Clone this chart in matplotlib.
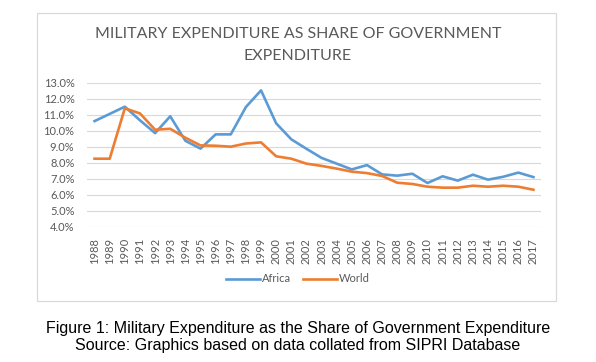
import matplotlib.pyplot as plt
from matplotlib.patches import Rectangle
from matplotlib.ticker import PercentFormatter

years = list(range(1988, 2018))
africa = [10.6, 11.05, 11.5, 10.65, 9.85, 10.9, 9.37, 8.88, 9.77, 9.77,
          11.48, 12.52, 10.46, 9.46, 8.87, 8.3, 7.94, 7.58, 7.85, 7.27,
          7.19, 7.31, 6.73, 7.15, 6.88, 7.25, 6.94, 7.12, 7.38, 7.1]
world = [8.25, 8.25, 11.4, 11.08, 10.06, 10.12, 9.56, 9.08, 9.06, 9.0,
         9.2, 9.27, 8.4, 8.25, 7.94, 7.8, 7.63, 7.44, 7.35, 7.17,
         6.75, 6.67, 6.5, 6.44, 6.44, 6.56, 6.5, 6.56, 6.5, 6.31]

title = 'MILITARY EXPENDITURE AS SHARE OF GOVERNMENT\nEXPENDITURE'
caption = ('Figure 1: Military Expenditure as the Share of Government Expenditure\n'
           'Source: Graphics based on data collated from SIPRI Database')

plt.rcParams['font.family'] = ['Lato', 'DejaVu Sans']
grey = '#595959'

fig = plt.figure(figsize=(5.96, 3.62), dpi=100)

# chart frame like the excel chart area
fig.patches.append(Rectangle((37 / 596, 1 - 301 / 362), 519 / 596, 288.5 / 362,
                             transform=fig.transFigure, fill=False,
                             edgecolor='#d9d9d9', linewidth=0.9))

ax = fig.add_axes([87 / 596, 1 - 226.7 / 362, 454 / 596, 144 / 362])
x = range(len(years))
ax.plot(x, africa, color='#5b9bd5', linewidth=1.9, label='Africa')
ax.plot(x, world, color='#ed7d31', linewidth=1.9, label='World')

ax.set_xlim(-0.5, len(years) - 0.5)
ax.set_ylim(4, 13)
ax.set_yticks(range(4, 14))
ax.yaxis.set_major_formatter(PercentFormatter(decimals=1))
ax.set_xticks(list(x))
ax.set_xticklabels([str(y) for y in years], rotation=90)
ax.tick_params(axis='both', length=0, labelsize=8, labelcolor=grey)
ax.tick_params(axis='y', pad=9)
ax.tick_params(axis='x', pad=8)
ax.grid(axis='y', color='#d9d9d9', linewidth=0.8)
ax.set_axisbelow(True)
for s in ax.spines.values():
    s.set_visible(False)

fig.text(0.5, 1 - 45 / 362, title, ha='center', va='center', fontsize=11.5,
         color=grey, linespacing=1.8)

fig.legend(loc='center', bbox_to_anchor=(0.5, 1 - 279 / 362), ncol=2,
           frameon=False, fontsize=8, labelcolor=grey, handlelength=3.0,
           columnspacing=1.1, handletextpad=0.2)

fig.text(0.5, 1 - 337 / 362, caption, ha='center', va='center', fontsize=11.5,
         family=['Liberation Sans', 'DejaVu Sans'], color='black', linespacing=1.15)

fig.savefig('out.png', dpi=100)
